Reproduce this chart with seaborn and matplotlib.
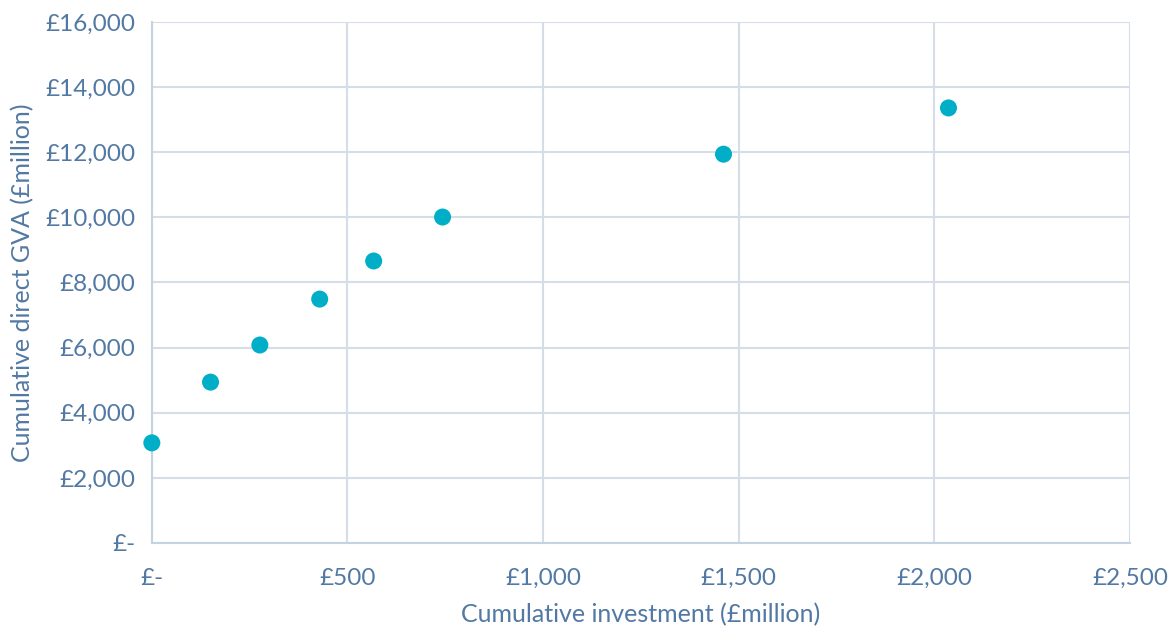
import matplotlib
matplotlib.use("Agg")
import matplotlib.pyplot as plt
import seaborn as sns
import pandas as pd
from matplotlib.ticker import FuncFormatter

investment = [0, 150, 276, 429, 567, 743, 1461, 2036]
gva = [3075, 4940, 6080, 7490, 8660, 10010, 11940, 13360]

df = pd.DataFrame({"investment": investment, "gva": gva})

sns.set_theme(style="white")
plt.rcParams['font.family'] = ['Lato', 'DejaVu Sans']

text_color = "#5279a3"
grid_color = "#d5dde8"
marker_color = "#00aec7"

fig = plt.figure(figsize=(11.68, 6.26), dpi=100)
ax = fig.add_axes([0.130, 0.1326, 0.8375, 0.8323])

sns.scatterplot(data=df, x="investment", y="gva", ax=ax, s=150,
                color=marker_color, edgecolor="none", zorder=3, clip_on=False)

ax.set_xlim(0, 2500)
ax.set_ylim(0, 16000)
ax.set_xticks(range(0, 2501, 500))
ax.set_yticks(range(0, 16001, 2000))

def fmt(v, pos):
    return "£-" if v == 0 else "£{:,.0f}".format(v)

ax.xaxis.set_major_formatter(FuncFormatter(fmt))
ax.yaxis.set_major_formatter(FuncFormatter(fmt))

ax.grid(True, color=grid_color, linewidth=1.5)
ax.set_axisbelow(True)
for side in ["top", "right"]:
    ax.spines[side].set_visible(False)
for side in ["left", "bottom"]:
    ax.spines[side].set_color("#c5d2e2")
    ax.spines[side].set_linewidth(1.5)

ax.tick_params(axis="both", colors=text_color, labelsize=17.5, length=0)
ax.tick_params(axis="x", pad=18)
ax.tick_params(axis="y", pad=12)

ax.set_xlabel("Cumulative investment (£million)", color=text_color, fontsize=18, labelpad=10)
ax.set_ylabel("Cumulative direct GVA (£million)", color=text_color, fontsize=18, labelpad=8)

fig.savefig("out.png", dpi=100)
